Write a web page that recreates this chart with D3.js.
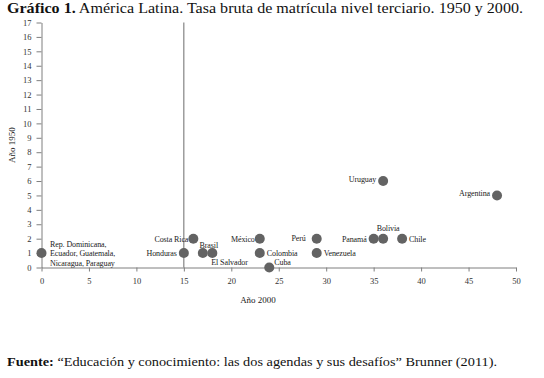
<!DOCTYPE html>
<html>
<head>
<meta charset="utf-8">
<script src="https://cdn.jsdelivr.net/npm/d3@7"></script>
<style>
  body { margin: 0; background: #fff; }
  svg { display: block; font-family: 'Liberation Serif', 'DejaVu Serif', serif; }
  .axis path, .axis line { stroke: #7f7f7f; }
  .axis text { fill: #333; font-size: 8.5px; font-family: 'Liberation Serif', 'DejaVu Serif', serif; }
</style>
</head>
<body>
<div class="wrapper"></div>
<script>
// data
var countries = ['Rep. Dominicana, Ecuador, Guatemala, Nicaragua, Paraguay', 'Honduras', 'Costa Rica', 'Brasil',
                 'El Salvador', 'México', 'Colombia', 'Cuba', 'Perú', 'Venezuela', 'Panamá', 'Bolivia',
                 'Chile', 'Uruguay', 'Argentina'];
var year2000 = [0, 15, 16, 17, 18, 23, 23, 24, 29, 29, 35, 36, 38, 36, 48];
var year1950 = [1, 1, 2, 1, 1, 2, 1, 0, 2, 1, 2, 2, 2, 6, 5];
var xTicks = [0, 5, 10, 15, 20, 25, 30, 35, 40, 45, 50];
var yTicks = d3.range(0, 18);
var refLine = 15;

var W = 544, H = 378;
var margin = {top: 22.5, left: 41.5},
    width = 474.5,
    height = 245;

var svg = d3.select('.wrapper').append('svg')
    .attr('width', W)
    .attr('height', H);

// title
var title = svg.append('text')
    .attr('x', 7)
    .attr('y', 13)
    .attr('font-size', 15)
    .attr('fill', '#111')
    .attr('textLength', 516)
    .attr('lengthAdjust', 'spacingAndGlyphs');
title.append('tspan').attr('font-weight', 'bold').text('Gráfico 1.');
title.append('tspan').text(' América Latina. Tasa bruta de matrícula nivel terciario. 1950 y 2000.');

var g = svg.append('g').attr('transform', `translate(${margin.left},${margin.top})`);

var x = d3.scaleLinear().domain([0, 50]).range([0, width]);
var y = d3.scaleLinear().domain([0, 17]).range([height, 0]);

g.append('g')
    .attr('class', 'axis')
    .attr('transform', `translate(0,${height})`)
    .call(d3.axisBottom(x).tickValues(xTicks).tickSize(4).tickSizeOuter(0).tickPadding(6));

g.append('g')
    .attr('class', 'axis')
    .call(d3.axisLeft(y).tickValues(yTicks).tickSize(5).tickSizeOuter(0).tickPadding(5));

// reference line at 15
g.append('line')
    .attr('x1', x(refLine)).attr('x2', x(refLine))
    .attr('y1', y(17)).attr('y2', y(0))
    .attr('stroke', '#6b6b6b')
    .attr('stroke-width', 1);

// axis titles
svg.append('text')
    .attr('x', 258).attr('y', 303)
    .attr('text-anchor', 'middle')
    .attr('font-size', 9)
    .attr('fill', '#222')
    .text('Año 2000');

svg.append('text')
    .attr('transform', 'translate(15,145) rotate(-90)')
    .attr('text-anchor', 'middle')
    .attr('font-size', 9)
    .attr('fill', '#222')
    .text('Año 1950');

var points = countries.map((c, i) => ({name: c, x: year2000[i], y: year1950[i]}));

g.selectAll('circle')
    .data(points)
    .enter()
    .append('circle')
    .attr('cx', d => x(d.x))
    .attr('cy', d => y(d.y))
    .attr('r', 5)
    .attr('fill', '#636363');

// label placement: dx, dy, anchor
var place = {
  'Honduras': [-7, 0, 'end'],
  'Costa Rica': [-5, 0, 'end'],
  'Brasil': [6, -8.5, 'middle'],
  'El Salvador': [-1, 8.5, 'start'],
  'México': [-5, 0, 'end'],
  'Colombia': [7, 0, 'start'],
  'Cuba': [5, -5.5, 'start'],
  'Perú': [-11, -1, 'end'],
  'Venezuela': [7, 0, 'start'],
  'Panamá': [-7, 0, 'end'],
  'Bolivia': [5, -11, 'middle'],
  'Chile': [7, 0, 'start'],
  'Uruguay': [-7, -2.5, 'end'],
  'Argentina': [-7, -2, 'end']
};

var labels = g.selectAll('.lab')
    .data(points)
    .enter()
    .append('text')
    .attr('class', 'lab')
    .attr('font-size', 8)
    .attr('fill', '#222')
    .attr('letter-spacing', -0.1);

labels.each(function(d) {
  var t = d3.select(this);
  if (d.name.indexOf('Rep.') === 0) {
    var lines = ['Rep. Dominicana,', 'Ecuador, Guatemala,', 'Nicaragua, Paraguay'];
    lines.forEach((l, k) => {
      t.append('tspan')
        .attr('x', x(d.x) + 8.5)
        .attr('y', y(d.y) - 6 + k * 9.3)
        .text(l);
    });
  } else {
    var p = place[d.name];
    t.attr('x', x(d.x) + p[0])
     .attr('y', y(d.y) + p[1] + 3)
     .attr('text-anchor', p[2])
     .text(d.name);
  }
});

// source
var src = svg.append('text')
    .attr('x', 7)
    .attr('y', 366)
    .attr('font-size', 13.5)
    .attr('fill', '#111')
    .attr('textLength', 490)
    .attr('lengthAdjust', 'spacingAndGlyphs');
src.append('tspan').attr('font-weight', 'bold').text('Fuente:');
src.append('tspan').text(' “Educación y conocimiento: las dos agendas y sus desafíos” Brunner (2011).');
</script>
</body>
</html>
